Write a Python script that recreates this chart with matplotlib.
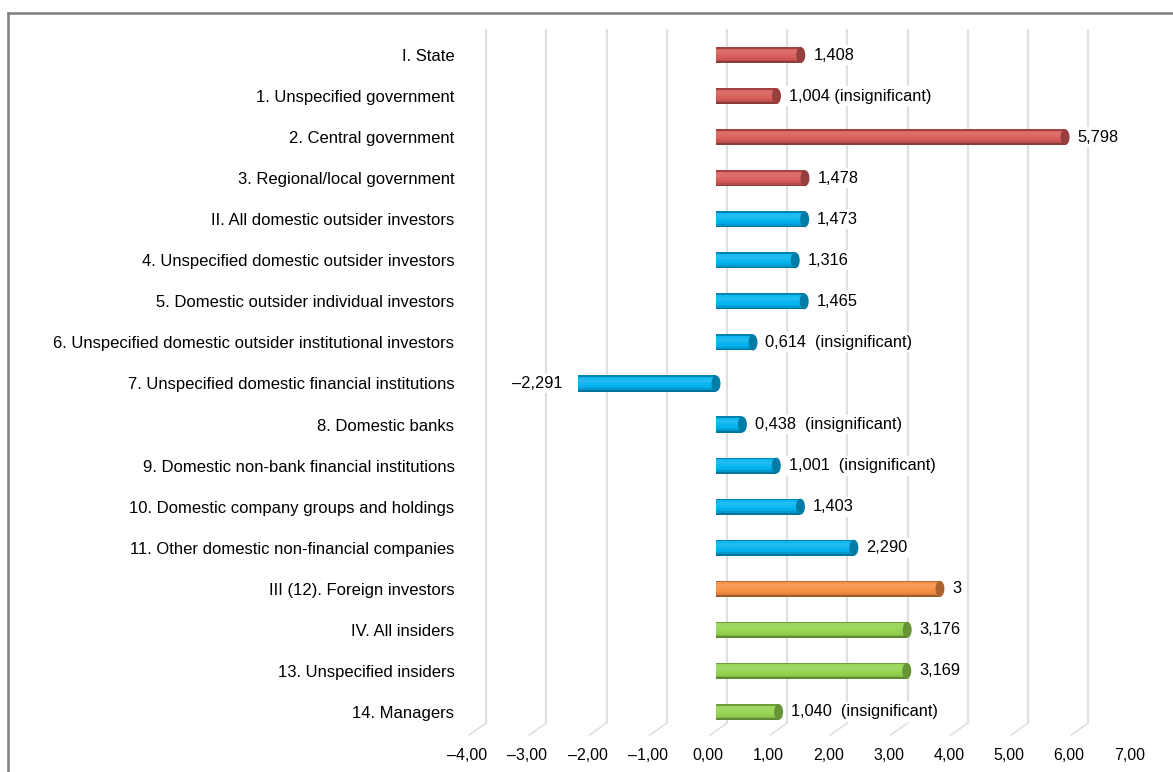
import numpy as np
import matplotlib
matplotlib.use("Agg")
from matplotlib import pyplot as plt
from matplotlib.patches import Ellipse
from matplotlib.lines import Line2D
from matplotlib.colors import to_rgb

plt.rcParams['font.family'] = ['Liberation Sans', 'DejaVu Sans']

# Categories, top to bottom
categories = [
    "I. State",
    "1. Unspecified government",
    "2. Central government",
    "3. Regional/local government",
    "II. All domestic outsider investors",
    "4. Unspecified domestic outsider investors",
    "5. Domestic outsider individual investors",
    "6. Unspecified domestic outsider institutional investors",
    "7. Unspecified domestic financial institutions",
    "8. Domestic banks",
    "9. Domestic non-bank financial institutions",
    "10. Domestic company groups and holdings",
    "11. Other domestic non-financial companies",
    "III (12). Foreign investors",
    "IV. All insiders",
    "13. Unspecified insiders",
    "14. Managers",
]
values = [1.408, 1.004, 5.798, 1.478, 1.473, 1.316, 1.465, 0.614, -2.291,
          0.438, 1.001, 1.403, 2.290, 3.72, 3.176, 3.169, 1.040]
value_labels = ["1,408", "1,004 (insignificant)", "5,798", "1,478", "1,473",
                "1,316", "1,465", "0,614  (insignificant)", "\u20132,291",
                "0,438  (insignificant)", "1,001  (insignificant)", "1,403",
                "2,290", "3", "3,176", "3,169", "1,040  (insignificant)"]
groups = ["state"] * 4 + ["domestic"] * 9 + ["foreign"] + ["insiders"] * 3
tick_values = list(range(-4, 8))

colors = {"state": "#D65A57", "domestic": "#00B2EF",
          "foreign": "#F68E42", "insiders": "#92D34F"}

W, H = 1173, 772
fig = plt.figure(figsize=(W / 100, H / 100), dpi=100)

# axes placed in pixel terms
L, R, T, B = 460, 1170, 29, 735
ax = fig.add_axes([L / W, (H - B) / H, (R - L) / W, (B - T) / H])

x0_px, unit_px = 716, 60.2      # front plane: value 0 pixel and px per unit
y0_px, step_px = 55, 41.06
ax.set_xlim((L - x0_px) / unit_px, (R - x0_px) / unit_px)
ax.set_ylim((B - y0_px) / step_px, (T - y0_px) / step_px)

y = np.arange(len(categories))
bar_h = 16 / step_px

# back-wall gridlines (shifted right for the 3D look) with floor slants
back_shift = 11 / unit_px
front_shift = -17 / unit_px
grid_bottom = (723 - y0_px) / step_px
floor = (B - y0_px) / step_px
for t in tick_values[:-1]:
    gx = t + back_shift
    ax.plot([gx, gx], [ax.get_ylim()[1], grid_bottom], color="#E0E0E0",
            lw=1.6, zorder=1, solid_capstyle="butt")
    ax.plot([gx, gx + front_shift], [grid_bottom, floor], color="#E0E0E0",
            lw=1.2, zorder=1, clip_on=False)


def shade(c, amt):
    c = np.array(to_rgb(c))
    if amt >= 0:
        return tuple(c + (1 - c) * amt)
    return tuple(c * (1 + amt))


# cylinder shading profile, top -> bottom
profile = [-0.25, 0.06, 0.12, 0.12, 0.08, 0.04, 0.0, -0.04, -0.14, -0.35]
n = len(profile)
for i, (v, g) in enumerate(zip(values, groups)):
    base = colors[g]
    for k, amt in enumerate(profile):
        yc = y[i] - bar_h / 2 + (k + 0.5) * bar_h / n
        ax.barh(yc, v, height=bar_h / n + 0.002, left=0, color=shade(base, amt),
                zorder=3, linewidth=0)
    cap_x = max(v, 0)
    ax.add_patch(Ellipse((cap_x, y[i]), width=9 / unit_px, height=bar_h,
                         facecolor=shade(base, -0.3), edgecolor="none", zorder=4))

# value labels
for i, (v, lab) in enumerate(zip(values, value_labels)):
    if v >= 0:
        ax.annotate(lab, xy=(v, y[i]), xytext=(9, 0), textcoords="offset points",
                    ha="left", va="center", fontsize=11.8, zorder=5,
                    bbox=dict(boxstyle="square,pad=0.15", fc="white", ec="none"))
    else:
        ax.annotate(lab, xy=(v, y[i]), xytext=(-11, 0), textcoords="offset points",
                    ha="right", va="center", fontsize=11.8, zorder=5,
                    bbox=dict(boxstyle="square,pad=0.15", fc="white", ec="none"))

ax.set_yticks(y)
ax.set_yticklabels(categories, fontsize=12)
tick_shift = -8 / unit_px
ax.set_xticks([t + tick_shift for t in tick_values])
ax.set_xticklabels([("%.2f" % t).replace(".", ",").replace("-", "\u2013")
                    for t in tick_values], fontsize=11.5)
ax.tick_params(axis="y", length=0, pad=4)
ax.tick_params(axis="x", length=0, pad=9)
for s in ax.spines.values():
    s.set_visible(False)

# outer frame (only top and left edges are inside the picture)
fig.add_artist(Line2D([7.5 / W, 7.5 / W], [0, 1 - 12.5 / H], transform=fig.transFigure,
                      color="#7F7F7F", lw=1.8))
fig.add_artist(Line2D([7.5 / W, 1], [1 - 12.5 / H, 1 - 12.5 / H], transform=fig.transFigure,
                      color="#7F7F7F", lw=1.8))

fig.savefig("out.png", dpi=100, facecolor="white")
